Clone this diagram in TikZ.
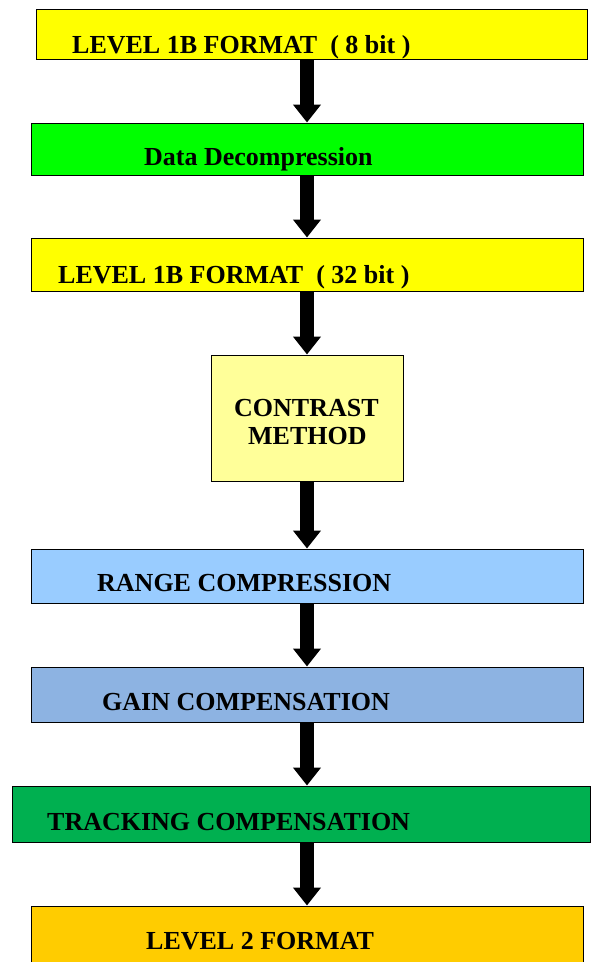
\documentclass[tikz,border=0pt]{standalone}
\usepackage{fontspec}
\setmainfont{Liberation Serif}
\usetikzlibrary{arrows.meta}
\definecolor{cYellow}{HTML}{FFFF00}
\definecolor{cGreen}{HTML}{00FF00}
\definecolor{cPale}{HTML}{FFFF99}
\definecolor{cLightBlue}{HTML}{99CCFF}
\definecolor{cGain}{HTML}{8DB3E2}
\definecolor{cTrack}{HTML}{00B050}
\definecolor{cGold}{HTML}{FFCC00}
\begin{document}
\begin{tikzpicture}[x=1pt,y=-1pt,
  box/.style={draw=black,line width=1pt,rectangle,inner sep=0pt},
  lbl/.style={anchor=base west,inner sep=0pt,font=\fontsize{26}{30}\selectfont\bfseries},
  flow/.style={line width=14pt,-{Triangle[width=27pt,length=18pt]}}]
\useasboundingbox (0,0) rectangle (592,962);
% boxes
\node[box,fill=cYellow,minimum width=551pt,minimum height=50pt] (b1) at (311.5,34) {};
\node[box,fill=cGreen,minimum width=552pt,minimum height=52pt] (b2) at (307,149) {};
\node[box,fill=cYellow,minimum width=552pt,minimum height=53pt] (b3) at (307,264.5) {};
\node[box,fill=cPale,minimum width=192pt,minimum height=126pt] (b4) at (307,418) {};
\node[box,fill=cLightBlue,minimum width=552pt,minimum height=54pt] (b5) at (307,576) {};
\node[box,fill=cGain,minimum width=552pt,minimum height=55pt] (b6) at (307,694.5) {};
\node[box,fill=cTrack,minimum width=578pt,minimum height=56pt] (b7) at (301,814) {};
\node[box,fill=cGold,minimum width=552pt,minimum height=62pt] (b8) at (307,937) {};
% texts
\node[lbl] (t1) at (72,53.6) {LEVEL 1B FORMAT\ \ ( 8 bit )};
\node[lbl] (t2) at (144,165.6) {Data Decompression};
\node[lbl] (t3) at (58,283.6) {LEVEL 1B FORMAT\ \ ( 32 bit )};
\node[lbl] (t4a) at (234,416.6) {CONTRAST};
\node[lbl] (t4b) at (248,444.6) {METHOD};
\node[lbl] (t5) at (97,591.6) {RANGE COMPRESSION};
\node[lbl] (t6) at (102,710.6) {GAIN COMPENSATION};
\node[lbl] (t7) at (47,830.6) {TRACKING COMPENSATION};
\node[lbl] (t8) at (146,949.6) {LEVEL 2 FORMAT};
% arrows
\coordinate (ax) at (307,0);
\draw[flow] (b1.south -| ax) -- (b2.north -| ax);
\draw[flow] (b2.south -| ax) -- (b3.north -| ax);
\draw[flow] (b3.south -| ax) -- (b4.north -| ax);
\draw[flow] (b4.south -| ax) -- (b5.north -| ax);
\draw[flow] (b5.south -| ax) -- (b6.north -| ax);
\draw[flow] (b6.south -| ax) -- (b7.north -| ax);
\draw[flow] (b7.south -| ax) -- (b8.north -| ax);
\end{tikzpicture}
\end{document}
